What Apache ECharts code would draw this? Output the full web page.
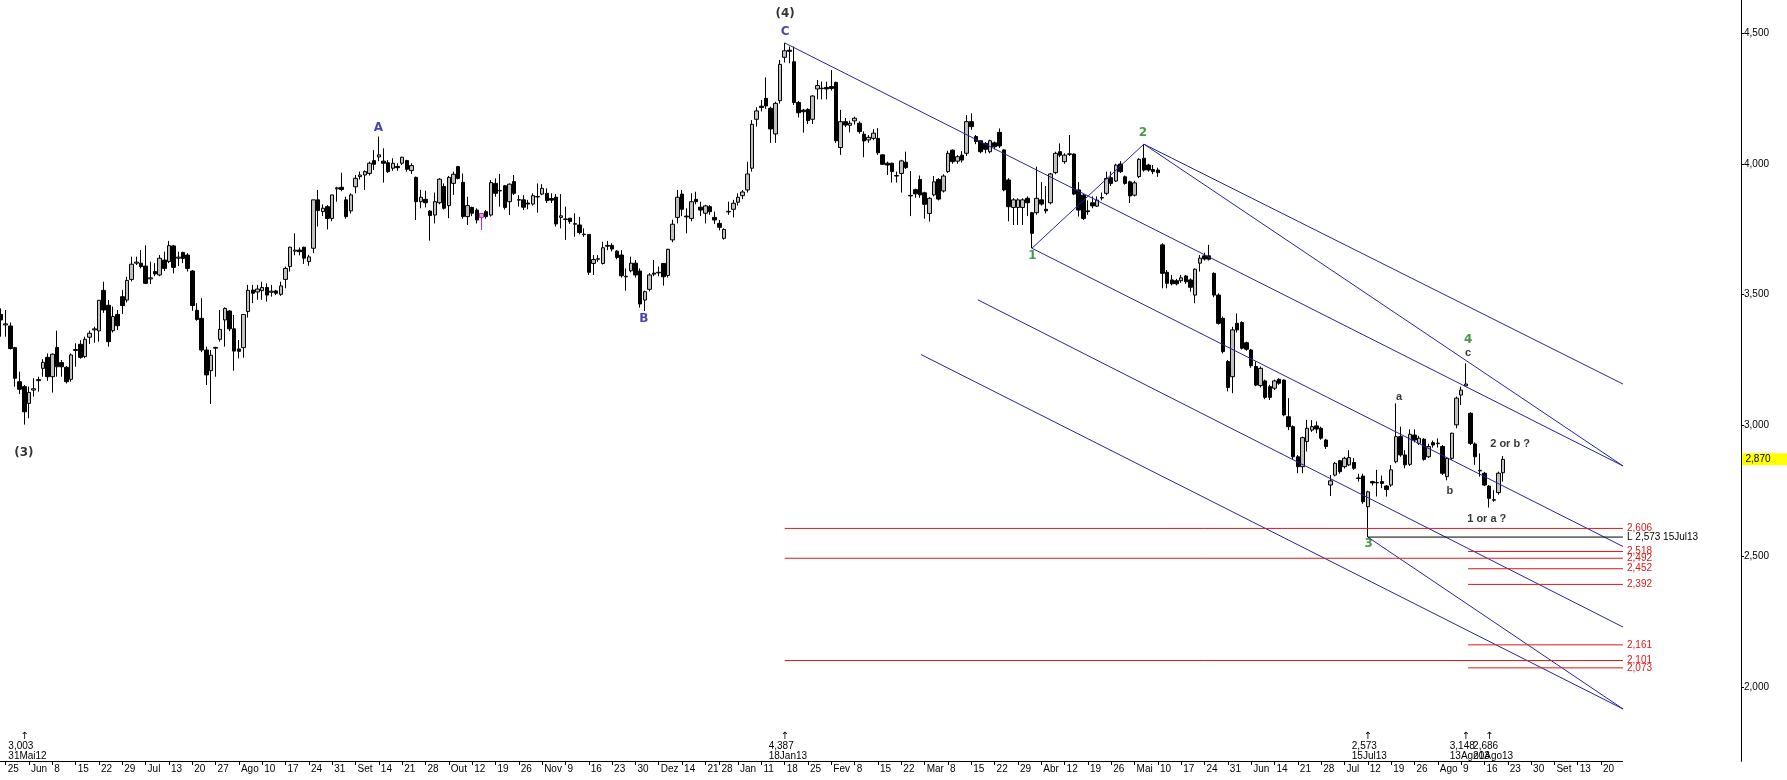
<!DOCTYPE html>
<html><head><meta charset="utf-8">
<script src="https://cdn.jsdelivr.net/npm/echarts@6/dist/echarts.min.js"></script>
<style>html,body{margin:0;padding:0;background:#fff}#c{width:1787px;height:780px}</style>
</head><body><div id="c"></div>
<script>
// ---- data ----
// daily candles [open, close, low, high], first trading day 24 May 2012
const candles = [
[3424,3403,3339,3447],[3384,3388,3339,3441],[3380,3294,3290,3393],[3297,3180,3148,3300],[3167,3138,3120,3205],
[3148,3052,3003,3154],[3084,3126,3027,3148],[3135,3140,3110,3180],[3171,3175,3129,3186],[3218,3241,3186,3253],
[3260,3186,3170,3275],[3186,3272,3125,3275],[3298,3224,3186,3362],[3240,3224,3186,3250],[3222,3167,3160,3227],
[3176,3269,3167,3275],[3286,3290,3224,3314],[3310,3260,3255,3326],[3263,3329,3257,3339],[3337,3352,3311,3362],
[3365,3369,3316,3377],[3361,3478,3320,3479],[3516,3441,3430,3549],[3459,3320,3301,3479],[3362,3416,3355,3454],
[3424,3381,3365,3441],[3492,3458,3426,3518],[3479,3554,3470,3568],[3558,3616,3550,3645],[3620,3624,3613,3645],
[3620,3607,3600,3670],[3609,3543,3540,3688],[3560,3564,3540,3626],[3588,3579,3570,3620],[3575,3639,3570,3651],
[3632,3600,3590,3664],[3626,3687,3620,3705],[3686,3604,3581,3690],[3639,3643,3609,3664],[3661,3638,3620,3664],
[3651,3600,3588,3658],[3590,3458,3438,3594],[3440,3405,3400,3467],[3409,3288,3280,3486],[3288,3193,3154,3301],
[3209,3268,3082,3288],[3295,3298,3186,3300],[3329,3367,3320,3441],[3403,3447,3301,3451],[3437,3369,3360,3441],
[3369,3284,3209,3422],[3292,3283,3256,3326],[3297,3424,3259,3424],[3435,3516,3412,3537],[3517,3505,3467,3537],
[3510,3521,3480,3537],[3515,3527,3480,3549],[3527,3498,3473,3543],[3509,3513,3492,3537],[3514,3505,3498,3518],
[3501,3533,3495,3549],[3558,3600,3524,3607],[3607,3681,3588,3683],[3666,3670,3650,3734],[3670,3664,3650,3680],
[3681,3639,3617,3683],[3626,3644,3610,3652],[3677,3862,3658,3862],[3862,3821,3760,3900],[3817,3830,3800,3845],
[3836,3791,3749,3842],[3791,3881,3780,3881],[3904,3908,3855,3912],[3910,3902,3895,3966],[3862,3798,3790,3874],
[3820,3881,3810,3887],[3912,3944,3887,3957],[3951,3957,3940,3970],[3957,3970,3900,3975],[3963,4002,3955,4008],
[4012,3998,3976,4052],[4026,4034,4010,4104],[4010,4002,3928,4059],[4004,3970,3965,4014],[3983,4002,3973,4021],
[3990,3985,3973,4002],[4002,4025,3995,4027],[4012,3979,3970,4015],[3974,3993,3961,4002],[3948,3855,3785,3951],
[3855,3872,3830,3900],[3864,3851,3833,3897],[3819,3802,3706,3823],[3804,3855,3772,3890],[3851,3941,3845,3945],
[3913,3830,3825,3925],[3840,3948,3792,3953],[3925,3960,3881,3970],[3989,3944,3940,3992],[3929,3798,3790,3963],
[3798,3840,3766,3874],[3833,3811,3800,3836],[3823,3785,3772,3830],[3795,3810,3747,3812],[3817,3798,3790,3823],
[3804,3928,3798,3938],[3925,3887,3874,3944],[3896,3898,3836,3961],[3916,3833,3825,3919],[3855,3922,3804,3925],
[3932,3887,3880,3957],[3861,3863,3836,3880],[3862,3834,3823,3880],[3850,3846,3826,3862],[3846,3878,3840,3887],
[3873,3875,3813,3925],[3884,3906,3880,3922],[3887,3859,3850,3906],[3867,3861,3850,3887],[3872,3770,3760,3884],
[3795,3801,3753,3884],[3787,3789,3709,3836],[3792,3779,3770,3792],[3769,3771,3721,3811],[3766,3737,3730,3797],
[3729,3731,3721,3753],[3730,3585,3575,3730],[3619,3634,3575,3651],[3635,3637,3625,3651],[3619,3679,3615,3702],
[3688,3685,3670,3705],[3688,3674,3665,3696],[3666,3642,3635,3670],[3651,3572,3565,3670],[3568,3570,3515,3600],
[3591,3620,3585,3645],[3620,3575,3565,3632],[3590,3464,3450,3600],[3479,3511,3437,3515],[3520,3575,3512,3582],
[3582,3578,3570,3632],[3583,3585,3570,3607],[3619,3568,3534,3620],[3573,3673,3565,3675],[3709,3769,3700,3786],
[3795,3872,3772,3900],[3884,3826,3800,3900],[3800,3797,3734,3830],[3791,3855,3780,3887],[3864,3855,3845,3893],
[3834,3823,3800,3855],[3811,3839,3772,3843],[3836,3817,3805,3842],[3795,3785,3770,3817],[3772,3757,3745,3785],
[3715,3749,3710,3753],[3816,3818,3805,3855],[3826,3849,3795,3862],[3853,3872,3840,3887],[3878,3892,3865,3900],
[3900,3961,3890,4008],[3983,4151,3970,4167],[4170,4202,4142,4216],[4220,4215,4200,4244],[4250,4221,4210,4330],
[4212,4133,4080,4218],[4114,4231,4080,4237],[4241,4380,4230,4397],[4407,4432,4387,4462],[4434,4430,4384,4448],
[4390,4234,4225,4448],[4234,4195,4177,4240],[4205,4199,4119,4210],[4208,4165,4152,4212],[4170,4259,4152,4262],
[4286,4299,4246,4320],[4287,4289,4246,4314],[4292,4286,4246,4314],[4295,4288,4280,4358],[4311,4088,4080,4314],
[4062,4161,4034,4206],[4161,4148,4140,4175],[4147,4155,4120,4165],[4164,4174,4150,4180],[4155,4123,4115,4162],
[4113,4087,4025,4124],[4091,4101,4080,4110],[4097,4117,4090,4132],[4097,4042,4034,4136],[4034,3998,3995,4036],
[4002,3995,3957,4008],[4002,3970,3928,4004],[3953,3955,3928,3970],[3963,4011,3890,4015],[4006,3985,3980,4046],
[3877,3879,3800,3972],[3901,3885,3870,3905],[3940,3881,3870,3955],[3889,3845,3790,3893],[3810,3868,3779,3872],
[3881,3931,3875,3953],[3940,3865,3860,3945],[3896,3953,3890,3960],[3970,4040,3965,4050],[4052,4008,4000,4055],
[4010,4027,4000,4033],[4033,4014,4005,4048],[4040,4161,4030,4186],[4161,4142,4130,4193],[4104,4085,4075,4110],
[4088,4046,4040,4090],[4078,4055,4040,4083],[4046,4088,4040,4092],[4080,4065,4055,4085],[4120,4068,4060,4135],
[4053,3900,3895,4055],[3938,3836,3780,3945],[3833,3862,3766,3868],[3833,3862,3766,3868],[3833,3862,3766,3868],
[3868,3851,3800,3875],[3813,3734,3677,3816],[3813,3868,3805,3989],[3862,3846,3840,3930],[3826,3820,3810,3915],
[3851,3961,3845,3965],[3966,4040,3960,4046],[4046,4033,4025,4078],[4008,4033,4000,4040],[4036,4038,4030,4110],
[4037,3884,3880,4040],[3900,3823,3798,3930],[3880,3791,3785,3885],[3820,3817,3805,3860],[3851,3839,3830,3875],
[3838,3861,3835,3875],[3869,3871,3860,3890],[3887,3944,3880,3970],[3947,3925,3915,3970],[3934,3995,3930,4000],
[3999,3970,3965,4010],[3950,3925,3920,3955],[3931,3877,3850,3935],[3880,3927,3875,3935],[3951,4017,3945,4021],
[4021,3976,3970,4075],[3995,3976,3970,4000],[3978,3970,3960,3995],[3976,3966,3950,3985],[3690,3581,3524,3696],
[3585,3543,3524,3594],[3556,3541,3535,3575],[3553,3541,3535,3560],[3553,3564,3545,3575],[3571,3549,3541,3575],
[3556,3528,3511,3562],[3498,3597,3467,3600],[3620,3639,3588,3651],[3648,3636,3630,3660],[3648,3635,3630,3690],
[3581,3498,3490,3585],[3498,3390,3385,3505],[3409,3282,3275,3416],[3244,3145,3130,3250],[3186,3365,3123,3377],
[3390,3365,3355,3428],[3393,3295,3290,3398],[3316,3291,3285,3320],[3288,3228,3220,3292],[3225,3154,3150,3245],
[3152,3218,3145,3225],[3170,3107,3100,3175],[3148,3107,3097,3155],[3142,3170,3135,3175],[3176,3161,3155,3180],
[3173,3040,3035,3176],[3033,2995,2982,3104],[2995,2880,2870,3000],[2880,2842,2817,2887],[2842,2953,2817,2957],
[2938,2989,2900,3021],[2982,2995,2975,3020],[2998,2986,2970,3015],[2989,2951,2945,2995],[2944,2919,2910,2948],
[2772,2788,2730,2810],[2810,2855,2805,2860],[2865,2823,2815,2868],[2842,2874,2835,2880],[2849,2877,2845,2905],
[2858,2836,2830,2875],[2797,2799,2785,2815],[2806,2708,2700,2815],[2689,2746,2573,2750],[2785,2780,2770,2788],
[2780,2782,2728,2830],[2785,2778,2760,2808],[2768,2755,2728,2772],[2772,2830,2765,2848],[2861,2957,2855,3084],
[2957,2887,2880,2995],[2887,2849,2836,2905],[2851,2966,2845,2985],[2963,2944,2935,2985],[2931,2951,2925,2960],
[2947,2870,2865,2951],[2880,2919,2875,2930],[2934,2925,2915,2942],[2930,2932,2915,2950],[2919,2817,2810,2925],
[2804,2874,2790,2878],[2874,2970,2868,2972],[3002,3104,2989,3110],[3116,3135,3078,3148],[3151,3158,3148,3237],
[3046,2931,2925,3050],[2929,2880,2849,2935],[2826,2828,2804,2893],[2817,2772,2768,2822],[2768,2721,2686,2772],
[2714,2716,2708,2752],[2743,2817,2735,2823],[2819,2870,2785,2883]
];
const highlightedCandle = 103;           // magenta bar
const firstDay = '2012-05-24';
const holidays = ['2012-12-25','2012-12-26','2013-01-01'];
const slotCount = 374;                   // trading-day slots on the axis

const xTicks = [[1,'25'],[6,'Jun'],[11,'8'],[16,'15'],[21,'22'],[26,'29'],[31,'Jul'],[36,'13'],[41,'20'],[46,'27'],
[51,'Ago'],[56,'10'],[61,'17'],[66,'24'],[71,'31'],[76,'Set'],[81,'14'],[86,'21'],[91,'28'],[96,'Out'],[101,'12'],
[106,'19'],[111,'26'],[116,'Nov'],[121,'9'],[126,'16'],[131,'23'],[136,'30'],[141,'Dez'],[146,'14'],[151,'21'],
[154,'28'],[158,'Jan'],[163,'11'],[168,'18'],[173,'25'],[178,'Fev'],[183,'8'],[188,'15'],[193,'22'],[198,'Mar'],
[203,'8'],[208,'15'],[213,'22'],[218,'29'],[223,'Abr'],[228,'12'],[233,'19'],[238,'26'],[243,'Mai'],[248,'10'],
[253,'17'],[258,'24'],[263,'31'],[268,'Jun'],[273,'14'],[278,'21'],[283,'28'],[288,'Jul'],[293,'12'],[298,'19'],
[303,'26'],[308,'Ago'],[313,'9'],[318,'16'],[323,'23'],[328,'30'],[333,'Set'],[338,'13'],[343,'20']];
const yTicks = [2000, 2500, 3000, 3500, 4000, 4500];

// channel / fan lines [x1, v1, x2, v2] in trading-day index
const trendLines = [
[168,4462,347.7,2845],[245,4075,347.7,2845],[245,4075,347.7,3158],[221,3677,245,4075],
[221,3677,347.7,2537],[209.4,3480,347.7,2229],[197.2,3271,347.7,1916],[293,2573,347.7,1916]];
// horizontal target levels
const levelValues = [2606, 2518, 2492, 2452, 2392, 2161, 2101, 2073];
const levelStarts = [168, 314.5, 168, 314.5, 314.5, 314.5, 168, 314.5];
const lineEnd = 347.7;
const lowLine = {v: 2573, start: 293, text: 'L 2,573 15Jul13'};

// wave labels [index, value, text, kind]
const waveLabels = [
[168.1,4572,'(4)','k'],[168.1,4504,'C','blue'],[80.9,4138,'A','blue'],[137.8,3407,'B','blue'],[4.9,2896,'(3)','k'],
[221.1,3646,'1','green'],[244.8,4117,'2','green'],[293.2,2548,'3','green'],[314.5,3328,'4','green'],
[314.5,3278,'c','s'],[299.7,3110,'a','s'],[310.6,2749,'b','s'],[323.5,2927,'2 or b ?','s'],[318.5,2641,'1 or a ?','s']];
// low markers at the bottom [index, value, date]
const lowMarks = [[5,'3,003','31Mai12'],[168,'4,387','18Jan13'],[293,'2,573','15Jul13'],[314,'3,148','13Ago13'],[319,'2,686','20Ago13']];

// ---- build ----
const cats = [];
{
  let d = new Date(firstDay + 'T12:00:00Z');
  while (cats.length < slotCount) {
    const wd = d.getUTCDay();
    const s = d.toISOString().slice(0,10);
    if (wd !== 0 && wd !== 6 && holidays.indexOf(s) < 0) cats.push(s);
    d = new Date(d.getTime() + 86400000);
  }
}
const tickMap = new Map(xTicks);
const FONT = 'Liberation Sans';
const styles = {
  k: {color:'#000', fontSize:12, fontWeight:'bold', fontFamily:'DejaVu Sans'},
  blue: {color:'#16169c', fontSize:12, fontWeight:'bold', fontFamily:'DejaVu Sans'},
  green: {color:'#1a7f1a', fontSize:12, fontWeight:'bold', fontFamily:'DejaVu Sans'},
  s: {color:'#000', fontSize:11, fontWeight:'bold', fontFamily:FONT}
};

const candleData = candles.map((c, i) => i === highlightedCandle
  ? {value: c, itemStyle: {color: '#c8b0c8', borderColor: '#cc22cc', color0:'#c8b0c8', borderColor0:'#cc22cc'}}
  : c);

const series = [{
  type: 'candlestick', data: candleData, barWidth: 4, silent: true,
  itemStyle: {color: '#c0c0c0', color0: '#000000', borderColor: '#000000', borderColor0: '#000000', borderWidth: 1}
}];
trendLines.forEach(t => series.push({
  type:'line', xAxisIndex:1, data:[[t[0],t[1]],[t[2],t[3]]], symbol:'none', silent:true,
  lineStyle:{color:'#2424a0', width:1}
}));
levelValues.forEach((v, k) => series.push({
  type:'line', xAxisIndex:1, data:[[levelStarts[k], v],[lineEnd, v]], symbol:'none', silent:true,
  lineStyle:{color:'#e01818', width:1},
  endLabel:{show:true, formatter: echarts.format.addCommas(v), color:'#e01818', fontSize:10, fontFamily:FONT, distance:4}
}));
series.push({
  type:'line', xAxisIndex:1, data:[[lowLine.start, lowLine.v],[lineEnd, lowLine.v]], symbol:'none', silent:true,
  lineStyle:{color:'#000', width:1},
  endLabel:{show:true, formatter: lowLine.text, color:'#000', fontSize:10, fontFamily:FONT, distance:4}
});
series.push({
  type:'scatter', xAxisIndex:1, symbolSize:1, silent:true, itemStyle:{color:'rgba(0,0,0,0)'},
  data: waveLabels.map(w => ({value:[w[0], w[1]], label:Object.assign({show:true, position:'inside', formatter:w[2]}, styles[w[3]])}))
});

const chart = echarts.init(document.getElementById('c'));
chart.setOption({
  animation: false,
  backgroundColor: '#fff',
  grid: {left: 1, right: 46, top: 0, bottom: 19},
  xAxis: [{
    type:'category', data: cats, boundaryGap: false,
    axisLine:{show:false},
    axisTick:{show:true, interval:(i)=>tickMap.has(i), length:4, lineStyle:{color:'#000'}},
    axisLabel:{interval:(i)=>tickMap.has(i), formatter:(v,i)=>tickMap.get(i) || '', align:'left',
      padding:[0,0,0,2], margin:3, fontSize:10, fontFamily:FONT, color:'#000'},
    splitLine:{show:false}
  },{
    type:'value', min:0, max:slotCount-1, show:false
  }],
  yAxis: [{
    type:'value', position:'right', min:1717, max:4626, scale:true,
    axisLine:{show:true, onZero:false, lineStyle:{color:'#000', width:1}},
    splitLine:{show:false},
    axisTick:{show:true, customValues:yTicks, length:3, lineStyle:{color:'#000'}},
    axisLabel:{customValues:yTicks, formatter:(v)=>echarts.format.addCommas(v), fontSize:10, fontFamily:FONT, color:'#000', margin:3}
  }],
  series
});

// axis lines, last-price tag and low markers
const gr = [];
const yBase = Math.round(chart.convertToPixel({yAxisIndex:0}, 1717)) + 0.5;
const xEnd = chart.convertToPixel({xAxisIndex:1}, lineEnd);
const xAxisRight = Math.round(chart.convertToPixel({xAxisIndex:1}, slotCount-1)) + 0.5;
gr.push({type:'line', shape:{x1:0, y1:yBase, x2:xEnd, y2:yBase}, style:{stroke:'#000', lineWidth:1}, silent:true});
gr.push({type:'line', shape:{x1:xAxisRight, y1:0, x2:xAxisRight, y2:yBase}, style:{stroke:'#000', lineWidth:1}, silent:true});
const lastClose = candles[candles.length-1][1];
const yLast = chart.convertToPixel({yAxisIndex:0}, lastClose);
gr.push({type:'rect', shape:{x:xAxisRight+0.5, y:yLast-6, width:1787-xAxisRight, height:12}, style:{fill:'#ffff00'}, silent:true});
gr.push({type:'text', x:xAxisRight+4, y:yLast, style:{text:echarts.format.addCommas(lastClose), fill:'#000', font:'10px "Liberation Sans"', verticalAlign:'middle'}, silent:true});
lowMarks.forEach(m => {
  const x = chart.convertToPixel({xAxisIndex:0}, m[0]);
  gr.push({type:'text', x:x, y:736, style:{text:'↑', fill:'#000', font:'10px "DejaVu Sans"', align:'center', verticalAlign:'middle'}, silent:true});
  gr.push({type:'text', x:x-16, y:741, style:{text:m[1]+'\n'+m[2], fill:'#000', font:'10px "Liberation Sans"', lineHeight:10, align:'left', verticalAlign:'top'}, silent:true});
});
chart.setOption({graphic: gr});
</script></body></html>
